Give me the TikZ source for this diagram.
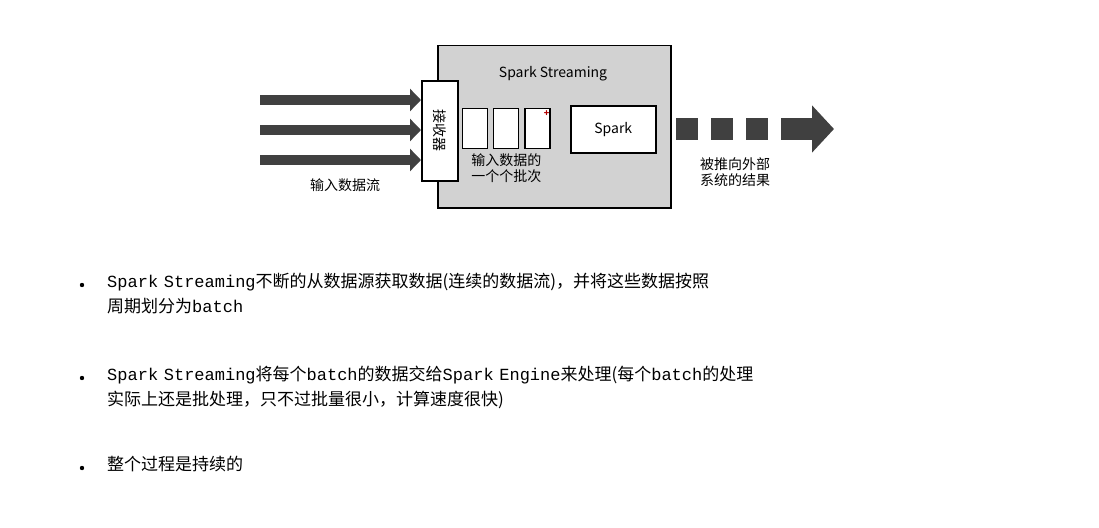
\documentclass[tikz,border=0pt]{standalone}
\usepackage{fontspec}
\setmainfont{Noto Sans CJK SC}
\newfontfamily\cjk{Noto Sans CJK SC}
\newfontfamily\latin{Liberation Mono}
\usetikzlibrary{positioning,arrows.meta}
\definecolor{darkgrey}{RGB}{64,64,64}
\definecolor{boxgrey}{RGB}{210,210,210}
\tikzset{
	inarrow/.style={-{Triangle[length=11pt,width=22pt]}, line width=10pt, darkgrey},
	batchbox/.style={draw, line width=1.2pt, fill=white, minimum width=25pt, minimum height=40pt, inner sep=0pt},
	label/.style={font=\fontsize{14}{16}\selectfont, align=center},
	bullet/.style={anchor=north west, font=\fontsize{17}{25}\selectfont, align=left, text width=900pt, inner sep=0pt}
}
\begin{document}
\begin{tikzpicture}[x=1pt, y=-1pt]
	\useasboundingbox (0,0) rectangle (1099,527);
	% streaming box
	\node[draw, line width=1.5pt, fill=boxgrey, minimum width=233pt, minimum height=162pt, anchor=north west] (stream) at (437,45) {};
	\node[label] (title) at (553,74) {Spark Streaming};
	\node[draw, line width=1.5pt, fill=white, minimum width=36pt, minimum height=100pt, anchor=north west, inner sep=0pt] (recv) at (421,80) {};
	\node[font=\fontsize{14}{14}\selectfont, rotate=-90] (recvtext) at (recv.center) {接收器};
	% input streams
	\foreach \y/\n in {100/a,130/b,160/c} {
		\coordinate (src\n) at (260,\y);
		\draw[inarrow] (src\n) -- (recv.west |- src\n);
	}
	\node[label] (inlabel) at (345,185) {输入数据流};
	% batches
	\node[batchbox, anchor=north west] (b1) at (462,108) {};
	\node[batchbox, right=5pt of b1] (b2) {};
	\node[batchbox, right=5pt of b2] (b3) {};
	\node[text=red!70!black, font=\bfseries\small, inner sep=0pt] (plus) at ([xshift=-4pt,yshift=-6pt]b3.north east) {+};
	\node[label, below=1pt of b2] (batchlabel) {输入数据的\\一个个批次};
	\node[draw, line width=1.5pt, fill=white, minimum width=85pt, minimum height=47pt, anchor=north west, font=\fontsize{14}{16}\selectfont] (spark) at (570,105) {Spark};
	% output
	\foreach \x/\n in {676/o1,711/o2,746/o3}
		\fill[darkgrey] (\x,118) rectangle ++(22,22) coordinate (\n);
	\coordinate (outstart) at (781,129);
	\coordinate (outend) at (834,129);
	\draw[-{Triangle[length=22pt,width=46pt]}, line width=22pt, darkgrey] (outstart) -- (outend);
	\node[label] (outlabel) at (735,172) {被推向外部\\系统的结果};
	% bullets
	\foreach \y in {285,378,468}
		\fill (82,\y) circle (2.2pt);
	\node[bullet] (t1) at (107,273) {{\latin Spark Streaming}不断的从数据源获取数据({\cjk 连续的数据流})，并将这些数据按照\\周期划分为{\latin batch}};
	\node[bullet] (t2) at (107,366) {{\latin Spark Streaming}将每个{\latin batch}的数据交给{\latin Spark Engine}来处理({\cjk 每个}{\latin batch}的处理\\实际上还是批处理，只不过批量很小，计算速度很快)};
	\node[bullet] (t3) at (107,456) {整个过程是持续的};
\end{tikzpicture}
\end{document}
